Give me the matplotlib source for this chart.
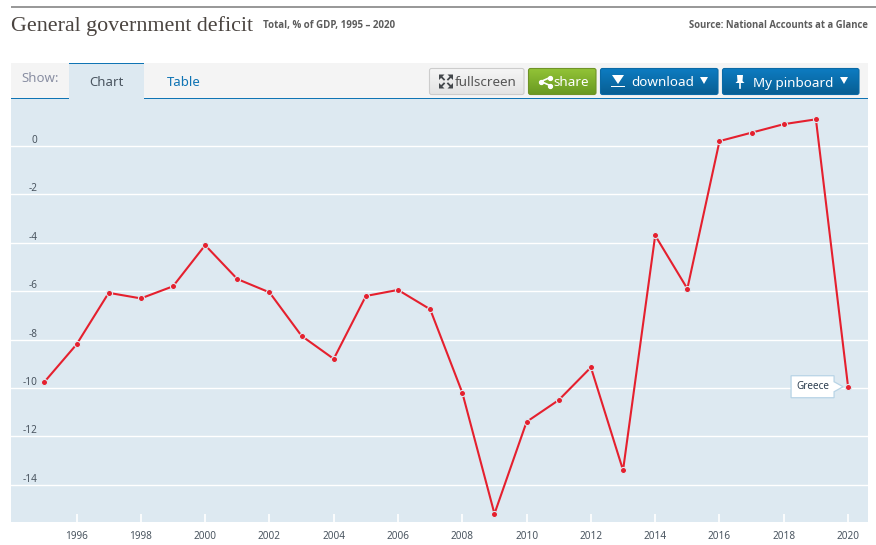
import numpy as np
import matplotlib.pyplot as plt
from matplotlib.patches import FancyBboxPatch, Polygon, Rectangle
from matplotlib.transforms import IdentityTransform

plt.rcParams['font.family'] = ['Noto Sans', 'DejaVu Sans']

years = list(range(1995, 2021))
deficit = [-9.75, -8.2, -6.07, -6.3, -5.8, -4.1, -5.5, -6.05, -7.85, -8.8, -6.2, -5.95, -6.75,
           -10.2, -15.2, -11.4, -10.5, -9.15, -13.4, -3.7, -5.9, 0.2, 0.55, 0.9, 1.1, -9.95]
country = 'Greece'
y_ticks = [0, -2, -4, -6, -8, -10, -12, -14]
x_ticks = list(range(1996, 2021, 2))

W, H = 876, 545
BG = '#dde9f1'
TEXT = '#4a5560'
BLUE = '#0f74b4'


def button(ax, x0, x1, y0, y1, top, bottom, edge):
    # rounded button with a vertical gradient fill
    patch = FancyBboxPatch((x0, y0), x1 - x0, y1 - y0, boxstyle='round,pad=0,rounding_size=2',
                           fc='none', ec=edge, lw=0.8, zorder=3)
    ax.add_patch(patch)
    grad = np.linspace(0, 1, 32)[:, None, None]
    c0 = np.array(plt.matplotlib.colors.to_rgb(top))
    c1 = np.array(plt.matplotlib.colors.to_rgb(bottom))
    img = ax.imshow(c0 + (c1 - c0) * grad, extent=(x0, x1, y1, y0), aspect='auto', zorder=2)
    img.set_clip_path(patch)


fig = plt.figure(figsize=(W / 100, H / 100), dpi=100)

# page furniture, laid out in pixel units
page = fig.add_axes([0, 0, 1, 1])
page.set_xlim(0, W)
page.set_ylim(H, 0)
page.axis('off')

page.add_patch(Rectangle((11, 6), W - 11, 1.6, fc='#999999', ec='none'))
page.text(11, 26, 'General government deficit', family='Liberation Serif', fontsize=15.8,
          color='#4a4440', va='center')
page.text(263, 25.5, 'Total, % of GDP, 1995 – 2020', family='Open Sans', fontsize=7.05, fontweight='bold',
          color='#5c5c5c', va='center')
page.text(868, 25.5, 'Source: National Accounts at a Glance', family='Open Sans', fontsize=6.85,
          fontweight='bold', color='#5c5c5c', va='center', ha='right')

page.add_patch(Rectangle((11, 63), 857, 35, fc='#f4f4f4', ec='none'))
page.add_patch(Rectangle((11, 97.6), 857, 1.3, fc=BLUE, ec='none'))
page.add_patch(Rectangle((69, 63), 75, 36, fc=BG, ec='none', zorder=1))
page.add_patch(Rectangle((69, 63), 75, 1.2, fc=BLUE, ec='none', zorder=1))
page.text(21, 79, 'Show:', fontsize=9.5, color='#8a8fa3', va='center')
page.text(106, 82.5, 'Chart', fontsize=9.5, color=TEXT, va='center', ha='center')
page.text(183.5, 82.5, 'Table', fontsize=9.5, color=BLUE, va='center', ha='center')

button(page, 429.5, 524, 68.5, 94.5, '#f6f6f6', '#e4e4e4', '#cccccc')
button(page, 528.5, 596, 68.5, 94.5, '#93c437', '#6a9a22', '#6f9327')
button(page, 600.5, 718, 68.5, 94.5, '#0d7cc2', '#085f94', '#0a6aa6')
button(page, 722.5, 859, 68.5, 94.5, '#0d7cc2', '#085f94', '#0a6aa6')

# fullscreen arrows
for sx, sy in [(-1, -1), (1, -1), (-1, 1), (1, 1)]:
    cx, cy = 446, 81.5
    page.add_patch(Polygon([(cx + sx * 7, cy + sy * 7), (cx + sx * 1.5, cy + sy * 7),
                            (cx + sx * 7, cy + sy * 1.5)], fc='#44484c', ec='none', zorder=4))
    page.plot([cx + sx * 2, cx + sx * 5], [cy + sy * 2, cy + sy * 5], color='#44484c', lw=1.3, zorder=4)
page.text(455, 83, 'fullscreen', fontsize=9.7, color='#555555', va='center')

# share icon
page.plot([550, 541, 550], [77.5, 81.5, 85.5], color='white', lw=1.2, zorder=4)
page.plot([550, 541, 550], [77.5, 81.5, 85.5], 'o', color='white', ms=2.8, zorder=4)
page.text(553.5, 83, 'share', fontsize=9.7, color='white', va='center', zorder=4)

# download icon
page.add_patch(Polygon([(612, 75), (624, 75), (618, 84)], fc='white', ec='none', zorder=4))
page.add_patch(Rectangle((611, 85.5), 14, 1.6, fc='white', ec='none', zorder=4))
page.text(631, 83, 'download', fontsize=9.7, color='white', va='center', zorder=4)
page.add_patch(Polygon([(700, 77), (708, 77), (704, 84)], fc='white', ec='none', zorder=4))

# pin icon
page.add_patch(Polygon([(737, 75), (743, 75), (742.5, 81), (744.5, 83), (735.5, 83), (737.5, 81)],
                       fc='white', ec='none', zorder=4))
page.plot([740, 740], [83, 88], color='white', lw=1.2, zorder=4)
page.text(753, 83, 'My pinboard', fontsize=9.7, color='white', va='center', zorder=4)
page.add_patch(Polygon([(840, 77), (848, 77), (844, 84)], fc='white', ec='none', zorder=4))

page.set_xlim(0, W)
page.set_ylim(H, 0)

# the chart itself
ax = fig.add_axes([11 / W, 1 - 522 / H, 857 / W, 423 / H])
ax.set_facecolor(BG)
ax.set_xlim(1993.96, 2020.62)
ax.set_ylim(-15.54, 1.94)
for s in ax.spines.values():
    s.set_visible(False)

for v in y_ticks:
    ax.axhline(v, color='white', lw=1, zorder=1)
ax.set_yticks(y_ticks)
ax.set_yticklabels([str(v) for v in y_ticks], fontsize=7.2, color=TEXT)
ax.tick_params(axis='y', length=0, direction='in', pad=-19)
for lab in ax.get_yticklabels():
    lab.set_ha('right')
    lab.set_va('bottom')

ax.set_xticks(x_ticks)
ax.set_xticklabels([str(v) for v in x_ticks], fontsize=7.2, color=TEXT)
ax.tick_params(axis='x', direction='in', length=5.5, width=1.2, color='white', pad=6.5)

ax.plot(years, deficit, color='#e5202e', lw=1.5, zorder=3, marker='o', ms=4.4,
        markeredgecolor=BG, markeredgewidth=0.8)

# series tag next to the last point, outlined as one shape with its pointer
fig.canvas.draw()
px, py = ax.transData.transform((years[-1], deficit[-1]))
tag = [(-57, 11), (-14, 11), (-14, 5), (-5, 0), (-14, -5), (-14, -11), (-57, -11)]
ax.add_patch(Polygon([(px + dx, py + dy) for dx, dy in tag], transform=IdentityTransform(),
                     fc='white', ec='#b8d4e6', lw=0.9, zorder=2.5, clip_on=False))
ax.text(px - 35.5, py, country, transform=IdentityTransform(), fontsize=7.2, color='#2c3e50',
        ha='center', va='center', zorder=5)

page.set_zorder(0)
ax.set_zorder(1)

fig.savefig('out.png', dpi=100)
